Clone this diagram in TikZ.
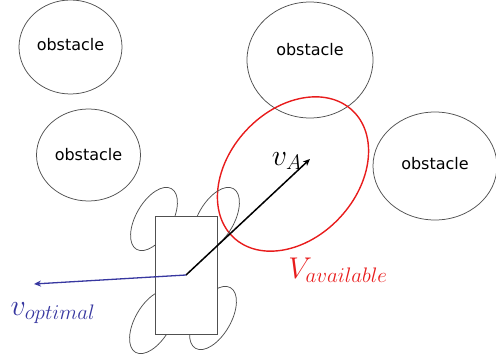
\RequirePackage{fix-cm}
\documentclass[tikz,border=0pt]{standalone}
\usepackage{amsmath}
\usepackage{fontspec}
\newfontfamily\obsfont{DejaVu Sans}
\usetikzlibrary{positioning, arrows.meta, shapes.geometric}
\definecolor{optblue}{RGB}{55,55,160}
\definecolor{availred}{RGB}{232,28,28}
\definecolor{edgegray}{RGB}{80,80,80}

\begin{document}
\begin{tikzpicture}[x=1pt, y=1pt,
	obstacle/.style={ellipse, draw=edgegray, line width=0.75pt, font=\obsfont\fontsize{16}{18}\selectfont, inner sep=0pt},
	wheel/.style={ellipse, draw=edgegray, line width=0.75pt, rotate=60, minimum width=70pt, minimum height=36pt, inner sep=0pt},
	vlabel/.style={font=\fontsize{30}{34}\selectfont, inner sep=0pt}]
\useasboundingbox (0,0) rectangle (496,360);
	% obstacles
\node [obstacle, minimum width=103pt, minimum height=94pt] (o1) at (70.5,313) {\raisebox{6pt}{obstacle}};
\node [obstacle, minimum width=126pt, minimum height=116pt] (o2) at (310,300) {\raisebox{22pt}{obstacle}};
\node [obstacle, minimum width=104pt, minimum height=92pt] (o3) at (88.5,205) {obstacle};
\node [obstacle, minimum width=124pt, minimum height=108pt] (o4) at (435,194) {\raisebox{6pt}{obstacle}};

	% set of available velocities
\node [ellipse, draw=availred, line width=1.4pt, rotate=47, minimum width=174pt, minimum height=128pt] (avail) at (293,186) {};
\node [vlabel, text=availred] (lavail) at (338,90) {$V_{available}$};

	% robot
\node [wheel] (w1) at (154,141) {};
\node [wheel] (w2) at (216,141) {};
\node [wheel] (w3) at (153,38) {};
\node [wheel] (w4) at (213,42) {};
\node [draw=edgegray, line width=0.75pt, fill=white, minimum width=62pt, minimum height=118pt, inner sep=0pt] (car) at (186,85) {};

	% velocities
\coordinate (tA) at (310,201);
\coordinate (tOpt) at (34,76);
\draw [line width=1.5pt, -{Stealth[length=7pt, width=6pt]}] (car.center) -- (tA);
\draw [optblue, line width=1.3pt, -{Stealth[length=7pt, width=6pt]}] (car.center) -- (tOpt);
\node [vlabel] (lA) at (287,199) {$v_A$};
\node [vlabel, text=optblue] (lOpt) at (53,47) {$v_{optimal}$};
\end{tikzpicture}
\end{document}
